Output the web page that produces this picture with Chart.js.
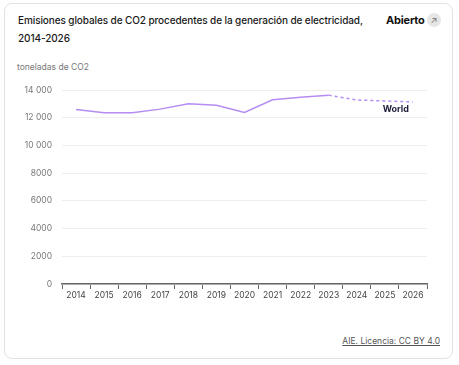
<!DOCTYPE html>
<html>
<head>
<meta charset="utf-8">
<script src="https://cdn.jsdelivr.net/npm/chart.js@4/dist/chart.umd.min.js"></script>
<style>
  html, body { margin: 0; padding: 0; background: #fff; width: 459px; height: 365px; overflow: hidden; font-family: Inter, "Open Sans", sans-serif; }
  .card { position: absolute; left: 4px; top: 3px; width: 447px; height: 354px; border: 1px solid #e2e2e2; border-radius: 8px; }
  .title { position: absolute; left: 18px; top: 11px; width: 360px; font-size: 10px; line-height: 18px; font-weight: 500; color: #1a1a1a; letter-spacing: -0.1px; }
  .open { position: absolute; left: 386px; top: 13px; font-size: 11px; font-weight: 700; color: #111; letter-spacing: -0.2px; }
  .icon { position: absolute; left: 427px; top: 13px; width: 14px; height: 14px; border-radius: 7px; background: #e6e6e6; color: #777; font-size: 9px; line-height: 14px; text-align: center; }
  .unit { position: absolute; left: 17px; top: 62px; font-size: 8.5px; color: #777; }
  .src { position: absolute; right: 19px; top: 336px; font-size: 8.5px; color: #555; text-decoration: underline; }
  #wrap { position: absolute; left: 0; top: 70px; width: 440px; height: 235px; }
</style>
</head>
<body>
<div class="card"></div>
<div class="title">Emisiones globales de CO2 procedentes de la generación de electricidad, 2014-2026</div>
<div class="open">Abierto</div>
<div class="icon">&#x2197;</div>
<div class="unit">toneladas de CO2</div>
<div class="src">AIE. Licencia: CC BY 4.0</div>
<div id="wrap"><canvas id="c" width="440" height="235"></canvas></div>
<script>
const years = ["2014","2015","2016","2017","2018","2019","2020","2021","2022","2023","2024","2025","2026"];
const worldValues = [12600, 12350, 12350, 12620, 13000, 12900, 12380, 13300, 13480, 13630, 13280, 13210, 13140];
const seriesName = "World";
const yTicks = [0, 2000, 4000, 6000, 8000, 10000, 12000, 14000];
const lastActualIndex = 9;

const labelPlugin = {
  id: 'endLabel',
  afterDatasetsDraw(chart) {
    const ctx = chart.ctx;
    const meta = chart.getDatasetMeta(0);
    const p = meta.data[meta.data.length - 1];
    ctx.save();
    ctx.font = "bold 9px Inter, sans-serif";
    ctx.fillStyle = "#1b1b3a";
    ctx.textAlign = "right";
    ctx.textBaseline = "middle";
    ctx.fillText(seriesName, p.x - 4, p.y + 7);
    ctx.restore();
  }
};

new Chart(document.getElementById('c'), {
  type: 'line',
  data: {
    labels: years,
    datasets: [{
      label: seriesName,
      data: worldValues,
      borderColor: '#b58cf2',
      borderWidth: 1.5,
      pointRadius: 0,
      tension: 0,
      segment: {
        borderDash: c => c.p0DataIndex >= lastActualIndex ? [3, 3] : undefined
      }
    }]
  },
  options: {
    responsive: false,
    animation: false,
    layout: { padding: { left: 0, right: 13, top: 20, bottom: 0 } },
    plugins: { legend: { display: false }, tooltip: { enabled: false } },
    scales: {
      x: {
        offset: true,
        grid: { offset: true, drawOnChartArea: false, drawTicks: true, tickLength: 5, color: '#666', lineWidth: 1 },
        border: { display: true, color: '#666', width: 1.5 },
        ticks: { color: '#444', font: { size: 8.5, family: 'Inter, sans-serif' }, padding: 1, maxRotation: 0, autoSkip: false },
        afterFit(s) { s.height = 21; }
      },
      y: {
        min: 0, max: 14000,
        afterBuildTicks(s) { s.ticks = yTicks.map(v => ({ value: v })); },
        grid: { color: '#eeeeee', drawTicks: false, lineWidth: 1 },
        border: { display: false },
        ticks: {
          color: '#777', font: { size: 8.5, family: 'Inter, sans-serif' }, padding: 10,
          callback: v => v >= 10000 ? String(v).replace(/(\d+)(\d{3})$/, '$1 $2') : String(v)
        },
        afterFit(s) { s.width = 62; }
      }
    }
  },
  plugins: [labelPlugin]
});
</script>
</body>
</html>
